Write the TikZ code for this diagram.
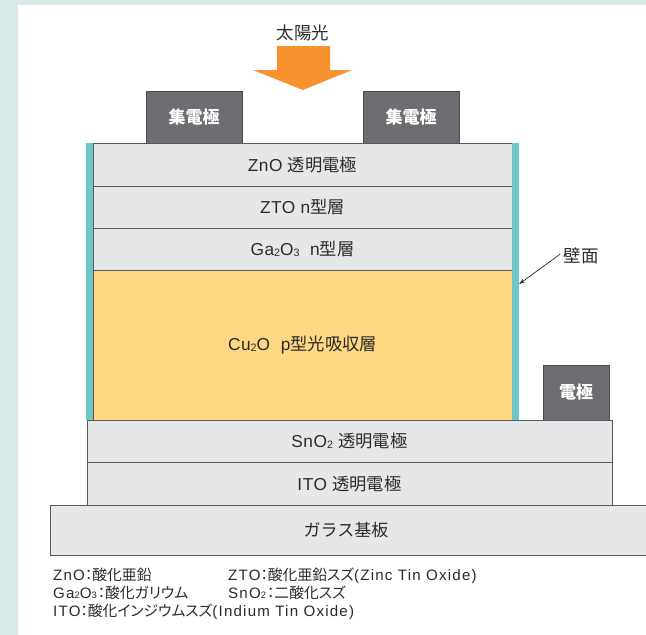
\documentclass[tikz,border=0pt]{standalone}
\usepackage{fontspec}
\setmainfont{Liberation Sans}
\newfontfamily\jp{Noto Sans CJK JP}
\newfontfamily\jpp{Noto Sans CJK JP}[CharacterWidth=AlternateProportional]
\usetikzlibrary{arrows.meta}
\newcommand\subs[1]{\raisebox{-0.06em}{\scalebox{0.62}{#1}}}
\newcommand\lj[1]{{\jpp\fontsize{14.8}{14.8}\selectfont #1}}
\definecolor{outerbg}{HTML}{D9E8E8}
\definecolor{layerfill}{HTML}{E6E7E8}
\definecolor{layerline}{HTML}{58595B}
\definecolor{cufill}{HTML}{FDD781}
\definecolor{wallcol}{HTML}{6CC7C5}
\definecolor{boxfill}{HTML}{6D6E71}
\definecolor{boxline}{HTML}{4A4A4C}
\definecolor{sunorange}{HTML}{F7922E}
\definecolor{txt}{HTML}{2B2B2B}
\tikzset{
  layer/.style={draw=layerline, line width=0.9pt, fill=layerfill, inner sep=0pt,
    text=txt, font=\fontsize{17.3}{17.3}\selectfont\addfontfeature{LetterSpace=3}},
  culayer/.style={layer, fill=cufill},
  wall/.style={fill=wallcol, inner sep=0pt, minimum width=7pt, minimum height=277pt},
  darkbox/.style={draw=boxline, line width=0.9pt, fill=boxfill, inner sep=0pt,
    text=white, font=\jp\bfseries\fontsize{17}{17}\selectfont},
  legend/.style={anchor=west, inner sep=0pt, text=txt, text height=10pt, text depth=2pt,
    font=\fontsize{15.1}{15.1}\selectfont\addfontfeature{LetterSpace=8}},
  plain/.style={inner sep=0pt, text=txt, font=\jp\fontsize{17.5}{17.5}\selectfont}
}
\begin{document}
\begin{tikzpicture}[x=1pt,y=-1pt]
\useasboundingbox (0,0) rectangle (646,635);
\clip (0,0) rectangle (646,635);
\fill[outerbg] (0,0) rectangle (646,635);
\fill[white] (18,5) rectangle (660,640);
% sunlight
\node[plain] (sun) at (303,33) {太陽光};
\fill[sunorange] (277,46) -- (330,46) -- (330,70) -- (352,70) -- (303,90) -- (253,70) -- (277,70) -- cycle;
% collector electrodes
\node[darkbox, minimum width=96pt, minimum height=52pt] (ce1) at (194,117) {集電極};
\node[darkbox, minimum width=96pt, minimum height=52pt] (ce2) at (411,117) {集電極};
\node[darkbox, minimum width=66pt, minimum height=55pt] (el) at (576,392.5) {電極};
% glass and bottom electrodes
\node[layer, minimum width=610pt, minimum height=50pt] (glass) at (355,530) {};
\node[plain, font=\jp\fontsize{17}{17}\selectfont] (glasst) at (346,530) {ガラス基板};
\node[layer, minimum width=525pt, minimum height=43pt] (ito) at (349.5,483.5) {ITO {\jp 透明電極}};
\node[layer, minimum width=525pt, minimum height=42pt] (sno) at (349.5,441) {SnO\subs{2} {\jp 透明電極}};
% upper stack
\node[culayer, minimum width=419pt, minimum height=150pt] (cu) at (302.5,345) {Cu\subs{2}O\ \ p{\jp 型光吸収層}};
\node[layer, minimum width=419pt, minimum height=42pt] (ga) at (302.5,249) {Ga\subs{2}O\subs{3}\ \ n{\jp 型層}};
\node[layer, minimum width=419pt, minimum height=42pt] (zto) at (302.5,207) {ZTO n{\jp 型層}};
\node[layer, minimum width=419pt, minimum height=43pt] (zno) at (302.5,164.5) {ZnO {\jp 透明電極}};
\node[wall] (lwall) at (89.5,281.5) {};
\node[wall] (rwall) at (515.5,281.5) {};
% wall label
\node[plain] (hm) at (581,256) {壁面};
\coordinate (hmtip) at (rwall.east |- 0,284);
\draw[line width=0.7pt, txt, -{Stealth[length=6pt,width=4pt]}] ([xshift=-3pt,yshift=2pt]hm.west) -- (hmtip);
% legend
\node[legend] (l1) at (53,576) {ZnO\lj{：酸化亜鉛}};
\node[legend] (l2) at (228,576) {ZTO\lj{：酸化亜鉛スズ}(Zinc Tin Oxide)};
\node[legend] (l3) at (53,594) {Ga\subs{2}O\subs{3}\kern1pt\lj{：酸化ガリウム}};
\node[legend] (l4) at (228,594) {SnO\subs{2}\kern1pt\lj{：二酸化スズ}};
\node[legend] (l5) at (53,612) {ITO\lj{：酸化インジウムスズ}(Indium Tin Oxide)};
\end{tikzpicture}
\end{document}
